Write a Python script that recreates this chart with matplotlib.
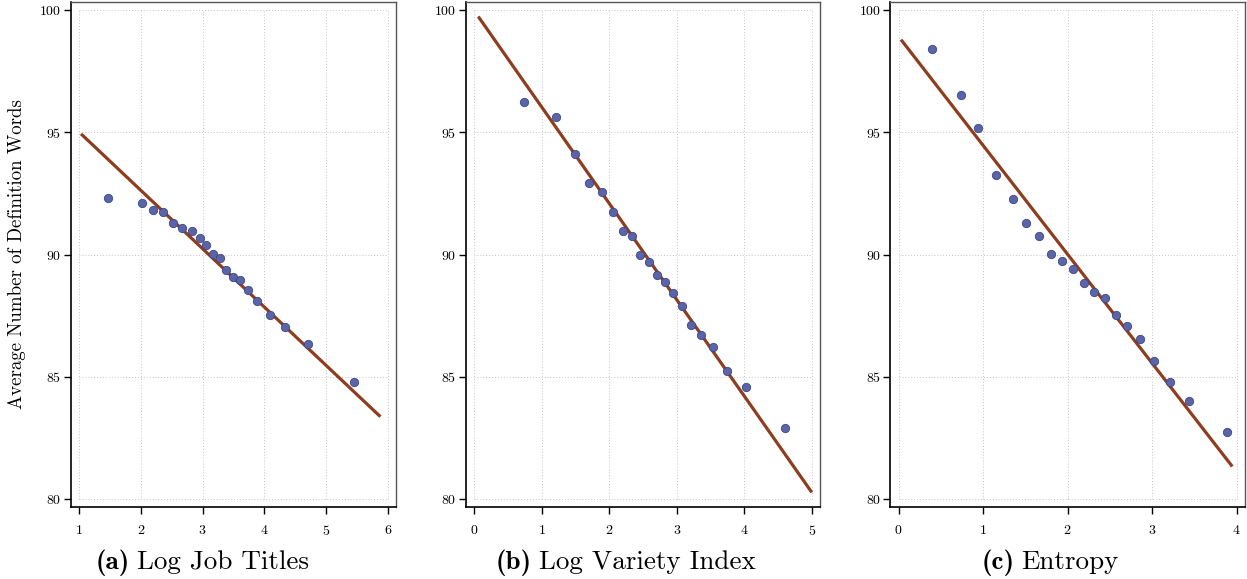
import numpy as np
import matplotlib
matplotlib.use("Agg")
from matplotlib import pyplot as plt

plt.rcParams["font.family"] = "serif"
plt.rcParams["font.serif"] = ["cmr10"]
plt.rcParams["mathtext.fontset"] = "cm"
plt.rcParams["axes.formatter.use_mathtext"] = True

# binned scatter data
x_a = [1.47, 2.01, 2.19, 2.35, 2.52, 2.67, 2.83, 2.96, 3.06, 3.17, 3.28,
       3.38, 3.49, 3.61, 3.73, 3.88, 4.09, 4.34, 4.70, 5.45]
y_a = [92.33, 92.12, 91.82, 91.74, 91.27, 91.07, 90.95, 90.69, 90.39, 90.02, 89.85,
       89.35, 89.06, 88.94, 88.54, 88.11, 87.54, 87.02, 86.33, 84.77]

x_b = [0.74, 1.21, 1.49, 1.70, 1.89, 2.05, 2.20, 2.33, 2.46, 2.59, 2.71,
       2.83, 2.95, 3.08, 3.21, 3.36, 3.53, 3.74, 4.02, 4.60]
y_b = [96.22, 95.64, 94.10, 92.92, 92.54, 91.74, 90.97, 90.74, 90.00, 89.71, 89.17,
       88.86, 88.41, 87.89, 87.10, 86.70, 86.20, 85.22, 84.60, 82.89]

x_c = [0.40, 0.74, 0.94, 1.15, 1.35, 1.51, 1.66, 1.81, 1.94, 2.06, 2.19,
       2.31, 2.44, 2.57, 2.70, 2.86, 3.02, 3.21, 3.44, 3.89]
y_c = [98.42, 96.54, 95.16, 93.24, 92.28, 91.28, 90.74, 90.02, 89.72, 89.39, 88.83,
       88.46, 88.22, 87.51, 87.06, 86.53, 85.65, 84.80, 83.99, 82.73]

# fitted lines: intercept, slope, x range
fit_a = (97.39, -2.385, 1.03, 5.88)
fit_b = (99.97, -3.94, 0.06, 5.0)
fit_c = (98.92, -4.453, 0.03, 3.95)

xticks_a = [1, 2, 3, 4, 5, 6]
xticks_b = [0, 1, 2, 3, 4, 5]
xticks_c = [0, 1, 2, 3, 4]
yticks = [80, 85, 90, 95, 100]

captions = ["(a)", "(b)", "(c)"]
titles = ["Log Job Titles", "Log Variety Index", "Entropy"]

W, H = 1247, 579
fig = plt.figure(figsize=(W / 100, H / 100), dpi=100)
renderer = fig.canvas.get_renderer()

# axes boxes in pixels: left, right
boxes = [(70.7, 396.3), (465.7, 820.3), (890, 1245)]
top_px, bot_px = 2, 507
cap_x = [202, 626, 1050]

panels = [(x_a, y_a, fit_a, xticks_a), (x_b, y_b, fit_b, xticks_b), (x_c, y_c, fit_c, xticks_c)]

for i, (xs, ys, fit, xt) in enumerate(panels):
    l, r = boxes[i]
    ax = fig.add_axes([l / W, 1 - bot_px / H, (r - l) / W, (bot_px - top_px) / H])
    # pad of ~8 px around the tick range
    wpx = r - l
    hpx = bot_px - top_px
    xr = xt[-1] - xt[0]
    xpad = xr * 8.5 / (wpx - 17)
    ypad = 20 * 8 / (hpx - 16)
    ax.set_xlim(xt[0] - xpad, xt[-1] + xpad)
    ax.set_ylim(80 - ypad, 100 + ypad)

    # dotted grid limited to the tick range
    ax.hlines(yticks, xt[0], xt[-1], colors="#c4c4c4", linestyles=(0, (1, 2)), lw=0.7, zorder=0)
    ax.vlines(xt, 80, 100, colors="#c4c4c4", linestyles=(0, (1, 2)), lw=0.7, zorder=0)

    b0, b1, x0, x1 = fit
    lx = np.array([x0, x1])
    ax.plot(lx, b0 + b1 * lx, color="#8e3d1f", lw=2.3, zorder=2, solid_capstyle="butt")
    ax.scatter(xs, ys, s=36, color="#5a64a6", edgecolor="#3c4788", linewidth=0.6, zorder=3)

    ax.set_xticks(xt)
    ax.set_yticks(yticks)
    ax.tick_params(direction="out", length=5, width=1, labelsize=10, top=False, right=False)
    ax.tick_params(axis="x", pad=7)
    ax.tick_params(axis="y", pad=1.5)
    for s in ["left", "bottom"]:
        ax.spines[s].set_color("black")
        ax.spines[s].set_linewidth(1.2)
    for s in ["top", "right"]:
        ax.spines[s].set_color("#555555")
        ax.spines[s].set_linewidth(1.0)

    # caption: bold label + roman title, centred as a pair
    yb = 1 - 569 / H
    t1 = fig.text(0, yb, captions[i], fontfamily="cmb10", fontsize=19.5, va="baseline", ha="left")
    t2 = fig.text(0, yb, titles[i], fontsize=19.5, va="baseline", ha="left")
    w1 = t1.get_window_extent(renderer).width
    w2 = t2.get_window_extent(renderer).width
    gap = 7
    start = cap_x[i] - (w1 + gap + w2) / 2
    t1.set_x(start / W)
    t2.set_x((start + w1 + gap) / W)

fig.text(17 / W, 1 - 254.5 / H, "Average Number of Definition Words", rotation=90,
         ha="center", va="center", fontsize=13.6)

plt.savefig("out.png", dpi=100)
